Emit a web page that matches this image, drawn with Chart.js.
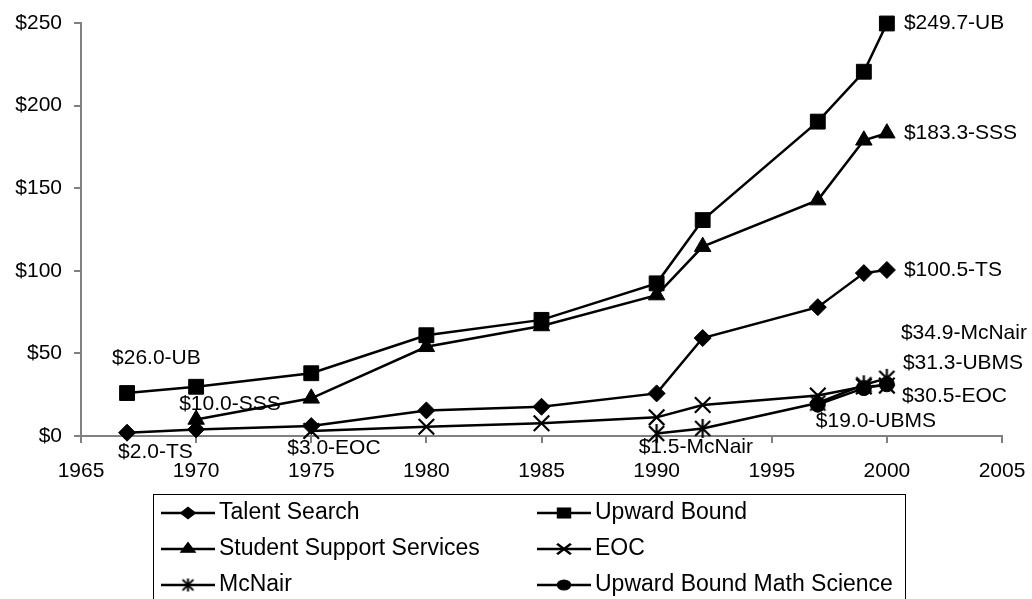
<!DOCTYPE html>
<html>
<head>
<meta charset="utf-8">
<script src="https://cdn.jsdelivr.net/npm/chart.js@4/dist/chart.umd.min.js"></script>
<style>
  html, body { margin: 0; padding: 0; background: #fff; }
  #wrap { position: relative; width: 1032px; height: 599px; }
</style>
</head>
<body>
<div id="wrap"><canvas id="c" width="1032" height="599"></canvas></div>
<script>
// ---- data ----
const seriesNames = ['Talent Search', 'Upward Bound', 'Student Support Services', 'EOC', 'McNair', 'Upward Bound Math Science'];
const seriesAbbr = ['TS', 'UB', 'SSS', 'EOC', 'McNair', 'UBMS'];

const tsYears = [1967, 1970, 1975, 1980, 1985, 1990, 1992, 1997, 1999, 2000];
const tsValues = [2.0, 4.0, 6.0, 15.5, 17.7, 25.8, 59.3, 78.0, 98.6, 100.5];

const ubYears = [1967, 1970, 1975, 1980, 1985, 1990, 1992, 1997, 1999, 2000];
const ubValues = [26.0, 29.8, 38.0, 61.0, 70.3, 92.4, 130.7, 190.3, 220.5, 249.7];

const sssYears = [1970, 1975, 1980, 1985, 1990, 1992, 1997, 1999, 2000];
const sssValues = [10.0, 22.8, 54.0, 66.6, 85.3, 114.6, 142.8, 179.0, 183.3];

const eocYears = [1975, 1980, 1985, 1990, 1992, 1997, 1999, 2000];
const eocValues = [3.0, 5.6, 7.7, 11.3, 18.8, 24.5, 30.0, 30.5];

const mcnairYears = [1990, 1992, 1997, 1999, 2000];
const mcnairValues = [1.5, 4.6, 20.0, 31.0, 34.9];

const ubmsYears = [1997, 1999, 2000];
const ubmsValues = [19.0, 29.0, 31.3];

const xTickValues = [1965, 1970, 1975, 1980, 1985, 1990, 1995, 2000, 2005];
const yTickValues = [0, 50, 100, 150, 200, 250];

// ---- styling helpers ----
const FONT = "'Liberation Sans', Arial, sans-serif";

function makeAsterisk(size, lw) {
  const cv = document.createElement('canvas');
  cv.width = size; cv.height = size;
  const g = cv.getContext('2d');
  g.strokeStyle = '#000'; g.lineWidth = lw; g.lineCap = 'butt';
  const m = size / 2, a = size * 0.36;
  g.beginPath();
  g.moveTo(m - a, m - a); g.lineTo(m + a, m + a);
  g.moveTo(m + a, m - a); g.lineTo(m - a, m + a);
  g.moveTo(m, 1); g.lineTo(m, size - 1);
  g.stroke();
  return cv;
}
const asteriskBig = makeAsterisk(21, 2.2);
const asteriskSmall = makeAsterisk(15, 2);

const markerStyles = [
  { pointStyle: 'rectRot', radius: 8.5, bw: 1 },
  { pointStyle: 'rect', radius: 10.5, bw: 1 },
  { pointStyle: 'triangle', radius: 9.5, bw: 1 },
  { pointStyle: 'crossRot', radius: 11, bw: 2.2 },
  { pointStyle: asteriskBig, radius: 10, bw: 0 },
  { pointStyle: 'circle', radius: 7.5, bw: 1 }
];

function pts(xs, ys) { return xs.map((x, i) => ({ x: x, y: ys[i] })); }

const seriesData = [
  pts(tsYears, tsValues),
  pts(ubYears, ubValues),
  pts(sssYears, sssValues),
  pts(eocYears, eocValues),
  pts(mcnairYears, mcnairValues),
  pts(ubmsYears, ubmsValues)
];

const datasets = seriesNames.map((name, i) => ({
  label: name,
  data: seriesData[i],
  borderColor: '#000',
  backgroundColor: '#000',
  borderWidth: 2.5,
  pointStyle: markerStyles[i].pointStyle,
  pointRadius: markerStyles[i].radius,
  pointHoverRadius: markerStyles[i].radius,
  pointBorderWidth: markerStyles[i].bw,
  pointBorderColor: '#000',
  pointBackgroundColor: '#000',
  tension: 0,
  clip: false
}));

// value labels: [datasetIndex, pointIndex, offsetX, offsetY]  (last point = -1)
const valueLabels = [
  [1, 0, -15, -35],
  [2, 0, -17, -15],
  [0, 0, -9, 20],
  [3, 0, -24, 17],
  [4, 0, -18, 14],
  [5, 0, -2, 17],
  [1, -1, 17, 0],
  [2, -1, 17, 0],
  [0, -1, 17, 0],
  [4, -1, 14, -45],
  [5, -1, 16, -21],
  [3, -1, 15, 11]
];

const valueLabelPlugin = {
  id: 'valueLabels',
  afterDatasetsDraw(chart) {
    const ctx = chart.ctx;
    ctx.save();
    ctx.font = '21px ' + FONT;
    ctx.fillStyle = '#000';
    ctx.textAlign = 'left';
    ctx.textBaseline = 'middle';
    valueLabels.forEach(([d, p, dx, dy]) => {
      const meta = chart.getDatasetMeta(d);
      const idx = p < 0 ? meta.data.length + p : p;
      const el = meta.data[idx];
      const v = chart.data.datasets[d].data[idx].y;
      const txt = '$' + v.toFixed(1) + '-' + seriesAbbr[d];
      ctx.fillText(txt, el.x + dx, el.y + dy);
    });
    ctx.restore();
  }
};

const boxLegendPlugin = {
  id: 'boxLegend',
  afterDraw(chart, args, o) {
    const ctx = chart.ctx;
    ctx.save();
    ctx.strokeStyle = '#000';
    ctx.lineWidth = 1;
    ctx.strokeRect(o.left + 0.5, o.top + 0.5, o.right - o.left, o.bottom - o.top);
    chart.data.datasets.forEach((ds, i) => {
      const col = i % 2, row = Math.floor(i / 2);
      const x0 = o.colX[col], y = o.rowY[row];
      ctx.strokeStyle = '#000';
      ctx.fillStyle = '#000';
      ctx.lineWidth = 2.5;
      ctx.beginPath(); ctx.moveTo(x0, y); ctx.lineTo(x0 + o.lineLen, y); ctx.stroke();
      const cx = x0 + o.lineLen / 2;
      if (ds.pointStyle instanceof HTMLCanvasElement) {
        ctx.drawImage(asteriskSmall, cx - asteriskSmall.width / 2, y - asteriskSmall.height / 2);
      } else {
        ctx.save();
        ctx.translate(cx, y);
        ctx.scale(o.markerStretch, 1);
        ctx.lineWidth = ds.pointBorderWidth;
        Chart.helpers.drawPoint(ctx, {
          pointStyle: ds.pointStyle,
          radius: ds.pointRadius * o.markerScale,
          borderWidth: ds.pointBorderWidth,
          rotation: 0
        }, 0, 0);
        ctx.restore();
      }
      ctx.font = o.fontSize + 'px ' + FONT;
      ctx.textAlign = 'left';
      ctx.textBaseline = 'middle';
      ctx.fillStyle = '#000';
      ctx.fillText(ds.label, x0 + o.lineLen + o.textGap, y);
    });
    ctx.restore();
  }
};

const AXIS = '#808080';

new Chart(document.getElementById('c'), {
  type: 'line',
  data: { datasets: datasets },
  plugins: [valueLabelPlugin, boxLegendPlugin],
  options: {
    responsive: false,
    animation: false,
    events: [],
    layout: { padding: { top: 23, right: 30, left: 0, bottom: 0 } },
    plugins: {
      legend: { display: false },
      tooltip: { enabled: false },
      boxLegend: {
        left: 153, top: 494, right: 905, bottom: 640,
        colX: [161, 537], rowY: [513, 549, 585],
        lineLen: 54, textGap: 4, markerScale: 0.68, markerStretch: 1.3, fontSize: 23
      }
    },
    scales: {
      x: {
        type: 'linear',
        min: 1965, max: 2005,
        afterBuildTicks: (s) => { s.ticks = xTickValues.map(v => ({ value: v })); },
        afterFit: (s) => { s.height = 163; s.paddingLeft = 0; s.paddingRight = 0; },
        ticks: {
          callback: (v) => String(v),
          color: '#000',
          font: { family: FONT, size: 21 },
          padding: 16,
          maxRotation: 0,
          autoSkip: false
        },
        grid: { drawOnChartArea: false, drawTicks: true, tickLength: 7, color: AXIS, lineWidth: 2 },
        border: { display: true, color: AXIS, width: 2 }
      },
      y: {
        type: 'linear',
        min: 0, max: 250,
        afterBuildTicks: (s) => { s.ticks = yTickValues.map(v => ({ value: v })); },
        afterFit: (s) => { s.width = 81; s.paddingTop = 0; s.paddingBottom = 0; },
        ticks: {
          callback: (v) => '$' + v,
          color: '#000',
          font: { family: FONT, size: 21 },
          padding: 12
        },
        grid: { drawOnChartArea: false, drawTicks: true, tickLength: 7, color: AXIS, lineWidth: 2 },
        border: { display: true, color: AXIS, width: 2 }
      }
    }
  }
});
</script>
</body>
</html>
